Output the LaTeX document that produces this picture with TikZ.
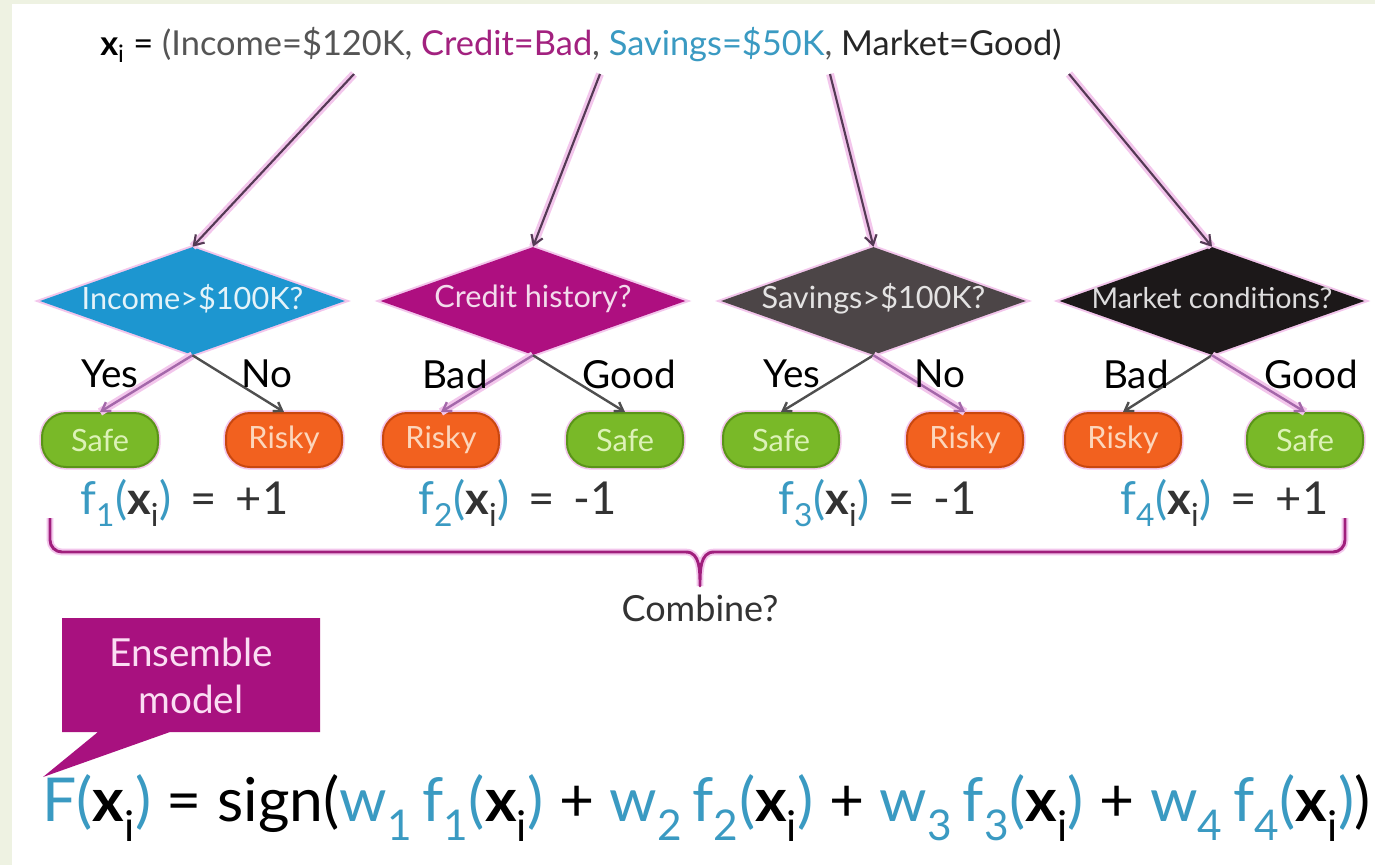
\documentclass[tikz,border=0pt]{standalone}
\usepackage{fontspec}
\setmainfont{Lato}
\usetikzlibrary{shapes.geometric,arrows.meta}
\definecolor{bgside}{HTML}{EEF2E2}
\definecolor{dblue}{HTML}{1D96D0}
\definecolor{dmag}{HTML}{AE0F80}
\definecolor{dgray}{HTML}{4C4547}
\definecolor{dblack}{HTML}{1C1819}
\definecolor{lgreen}{HTML}{79B928}
\definecolor{lgreenb}{HTML}{5A9418}
\definecolor{lgreent}{HTML}{DDF2B8}
\definecolor{lorange}{HTML}{F2611F}
\definecolor{lorangeb}{HTML}{C9470F}
\definecolor{lorangent}{HTML}{FCD6BC}
\definecolor{tblue}{HTML}{3A9AC2}
\definecolor{tmag}{HTML}{A2217F}
\definecolor{tgray}{HTML}{555555}
\definecolor{arrowc}{HTML}{553A55}
\definecolor{glowc}{HTML}{F3C6EC}
\definecolor{takenc}{HTML}{A468AA}
\definecolor{nottakenc}{HTML}{4F4F4F}
\definecolor{bracec}{HTML}{A01F7C}
\definecolor{callc}{HTML}{A8117F}
\definecolor{calltext}{HTML}{FBDDF3}
\newcommand{\myxi}{\textbf{x}\textsubscript{i}}
\newcommand{\fx}[1]{\textcolor{tblue}{f\textsubscript{#1}(}\myxi\textcolor{tblue}{)}}
\newcommand{\wfx}[1]{\textcolor{tblue}{w\textsubscript{#1}\,f\textsubscript{#1}(}\myxi\textcolor{tblue}{)}}
\begin{document}
\begin{tikzpicture}[x=0.75pt,y=-0.75pt,
  toparrow/.style={draw=arrowc, line width=1.6pt, -{Straight Barb[length=7pt,width=9pt]},
    preaction={draw=glowc, line width=6pt, -}},
  taken/.style={draw=takenc, line width=1.8pt, -{Straight Barb[length=6pt,width=8pt]},
    preaction={draw=glowc, line width=6pt, -}},
  nottaken/.style={draw=nottakenc, line width=1.8pt, -{Straight Barb[length=6pt,width=8pt]}},
  dia/.style={diamond, minimum width=228.75pt, minimum height=81pt, inner sep=0pt,
    preaction={draw=glowc, line width=3pt}},
  diatext/.style={font=\fontsize{23}{26}\selectfont, inner sep=0pt},
  leaf/.style={rectangle, rounded corners=18pt, minimum width=87pt, minimum height=40.5pt,
    line width=1.5pt, font=\fontsize{23}{26}\selectfont, inner sep=0pt,
    preaction={draw=glowc, line width=4pt}},
  safe/.style={leaf, fill=lgreen, draw=lgreenb, text=lgreent},
  risky/.style={leaf, fill=lorange, draw=lorangeb, text=lorangent},
  blab/.style={font=\fontsize{29}{32}\selectfont, text=black, inner sep=0pt},
  flab/.style={font=\fontsize{34}{38}\selectfont, text=black!80, inner sep=0pt},
]
\useasboundingbox (0,0) rectangle (1375,865);
\fill[white] (0,0) rectangle (1375,865);
\fill[bgside] (0,0) rectangle (12,865);
\fill[bgside] (0,0) rectangle (1375,4);

% top text
\node[anchor=west, inner sep=0pt, font=\fontsize{25.8}{30}\selectfont, text=tgray] (top) at (100,45)
  {\textcolor{black}{\myxi\ =} (Income=\$120K, \textcolor{tmag}{Credit=Bad}, \textcolor{tblue}{Savings=\$50K}, \textcolor{black!85}{Market=Good)}};
\coordinate (s1) at (354,74);
\coordinate (s2) at (600,74);
\coordinate (s3) at (830,74);
\coordinate (s4) at (1069,74);

% diamonds
\node[dia, fill=dblue] (d1) at (192.5,301) {};
\node[dia, fill=dmag] (d2) at (533,301) {};
\node[dia, fill=dgray] (d3) at (873.5,301) {};
\node[dia, fill=dblack] (d4) at (1212,301) {};
\node[diatext, text=white!88!dblue] (q1) at ([yshift=2pt]d1.center) {Income>\$100K?};
\node[diatext, text=white!85!dmag] (q2) at ([yshift=2pt]d2.center) {Credit history?};
\node[diatext, text=white!85!dgray] (q3) at ([yshift=2pt]d3.center) {Savings>\$100K?};
\node[diatext, text=white!85!dblack, font=\fontsize{21.5}{24}\selectfont] (q4) at ([yshift=2pt]d4.center) {Market conditions?};

\draw[toparrow] (s1) -- (d1.north);
\draw[toparrow] (s2) -- (d2.north);
\draw[toparrow] (s3) -- (d3.north);
\draw[toparrow] (s4) -- (d4.north);

% leaves
\node[safe] (l11) at (100,440) {Safe};
\node[risky] (l12) at (284,440) {Risky};
\node[risky] (l21) at (441,440) {Risky};
\node[safe] (l22) at (625,440) {Safe};
\node[safe] (l31) at (781,440) {Safe};
\node[risky] (l32) at (965,440) {Risky};
\node[risky] (l41) at (1123,440) {Risky};
\node[safe] (l42) at (1305,440) {Safe};

\draw[taken] (d1.south) -- (l11.north);
\draw[nottaken] (d1.south) -- (l12.north);
\draw[taken] (d2.south) -- (l21.north);
\draw[nottaken] (d2.south) -- (l22.north);
\draw[nottaken] (d3.south) -- (l31.north);
\draw[taken] (d3.south) -- (l32.north);
\draw[nottaken] (d4.south) -- (l41.north);
\draw[taken] (d4.south) -- (l42.north);

% branch labels
\node[blab] (b11) at (110,374) {Yes};
\node[blab] (b12) at (267,374) {No};
\node[blab] (b21) at (455,374) {Bad};
\node[blab] (b22) at (629,374) {Good};
\node[blab] (b31) at (792,374) {Yes};
\node[blab] (b32) at (940,374) {No};
\node[blab] (b41) at (1136,374) {Bad};
\node[blab] (b42) at (1311,374) {Good};

% f labels
\node[flab, anchor=west] (f1) at (80,503) {\fx{1}\ \,=\ \,+1};
\node[flab, anchor=west] (f2) at (418,503) {\fx{2}\ \,=\ \,-1};
\node[flab, anchor=west] (f3) at (778,503) {\fx{3}\ \,=\ \,-1};
\node[flab, anchor=west] (f4) at (1120,503) {\fx{4}\ \,=\ \,+1};

% brace
\draw[bracec, line width=2.2pt, line join=round, preaction={draw=glowc, line width=5pt}]
  (50,518) -- (50,540) to[out=-90,in=180] (62,552) -- (686,552)
  to[out=0,in=90] (700,586) to[out=90,in=180] (714,552) -- (1333,552)
  to[out=0,in=-90] (1345,540) -- (1345,518);
\node[inner sep=0pt, font=\fontsize{27}{30}\selectfont, text=black!80] (comb) at (700,608) {Combine?};

% callout
\fill[callc] (62,618) -- (320,618) -- (320,732) -- (170,732) -- (43,777) -- (98,732) -- (62,732) -- cycle;
\node[inner sep=0pt, align=center, font=\fontsize{29}{35}\selectfont, text=calltext] (ens) at (191,676) {Ensemble\\model};

% formula
\node[anchor=west, inner sep=0pt, font=\fontsize{45.4}{52}\selectfont, text=black] (form) at (42,808)
  {\textcolor{tblue}{F(}\myxi\textcolor{tblue}{)} = sign(\wfx{1} + \wfx{2} + \wfx{3} + \wfx{4})};
\end{tikzpicture}
\end{document}
